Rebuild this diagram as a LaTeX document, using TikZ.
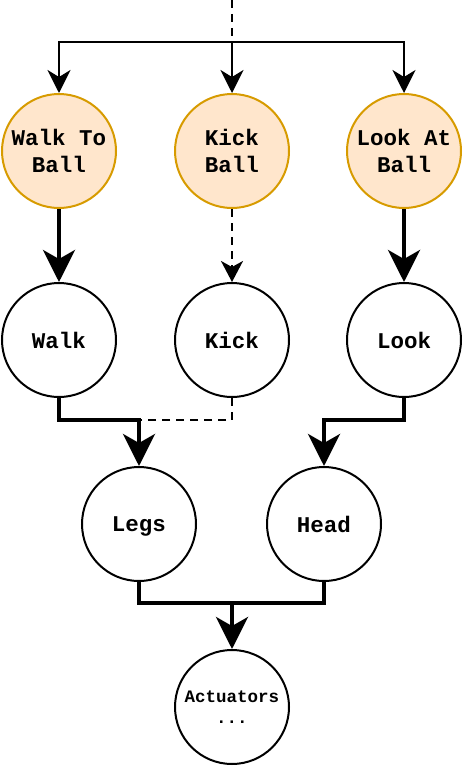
\documentclass[tikz,border=0pt]{standalone}
\usepackage{fontspec}
\setmonofont{Liberation Mono}
\usetikzlibrary{arrows.meta,calc}
\definecolor{orfill}{HTML}{FFE6CC}
\definecolor{orline}{HTML}{D79B00}
\begin{document}
\begin{tikzpicture}[x=1pt,y=-1pt,
  state/.style={circle,draw=black,line width=2pt,fill=white,minimum size=114pt,inner sep=0pt,align=center,font=\fontsize{22.5}{27.5}\selectfont\ttfamily\bfseries},
  task/.style={state,draw=orline,fill=orfill},
  thinarr/.style={line width=2pt,-{Stealth[length=23pt,width=23pt,inset=7pt]}},
  dasharr/.style={line width=2pt,dash pattern=on 8pt off 6pt,-{Stealth[length=21pt,width=22pt,inset=6pt]}},
  thickarr/.style={line width=4pt,-{Stealth[length=32pt,width=32pt,inset=9pt]}},
  thickline/.style={line width=4pt},
  dashline/.style={line width=2pt,dash pattern=on 8pt off 6pt}]
\useasboundingbox (0,0) rectangle (464,768);
\node[task] (wtb) at (59,151) {Walk To\\Ball};
\node[task] (kb) at (232,151) {Kick\\Ball};
\node[task] (lab) at (404,151) {Look At\\Ball};
\node[state] (walk) at (59,340) {Walk};
\node[state] (kick) at (232,340) {Kick};
\node[state] (look) at (404,340) {Look};
\node[state] (legs) at (139,524) {Le\smash{g}s};
\node[state] (head) at (324,524) {Head};
\node[state,font=\fontsize{17.5}{21}\selectfont\ttfamily\bfseries] (act) at (232,707) {Actuators\\...};
\coordinate (top) at (232,0);
\coordinate (j) at (232,42);
\draw[dashline] (top) -- (j);
\draw[thinarr] (j) -| (wtb);
\draw[thinarr] (j) -- (kb);
\draw[thinarr] (j) -| (lab);
\draw[thickarr] (wtb) -- (walk);
\draw[dasharr] (kb) -- (kick);
\draw[thickarr] (lab) -- (look);
\draw[dashline] (kick) -- (kick |- 0,420) -- (legs.center |- 0,420);
\draw[thickarr] (walk) -- (walk |- 0,420) -| (legs);
\draw[thickarr] (look) -- (look |- 0,420) -| (head);
\draw[thickline] (head) -- (head |- 0,603) -- (act.center |- 0,603);
\draw[thickarr] (legs) -- (legs |- 0,603) -| (act);
\end{tikzpicture}
\end{document}
